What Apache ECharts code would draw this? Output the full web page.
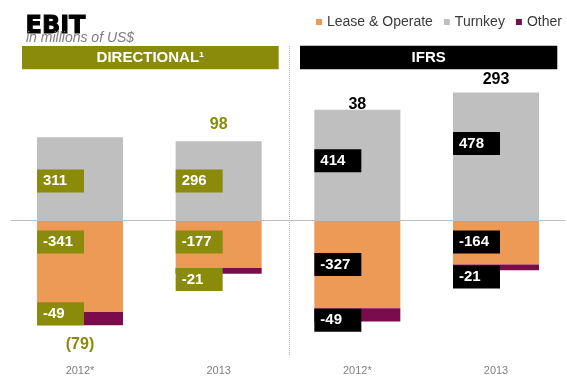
<!DOCTYPE html>
<html><head><meta charset="utf-8">
<script src="https://cdn.jsdelivr.net/npm/echarts@6/dist/echarts.min.js"></script>
<style>html,body{margin:0;padding:0;background:#fff}#c{width:567px;height:376px}</style>
</head><body><div id="c"></div>
<script>
// ---- data ----
const categories = ['2012*', '2013', '2012*', '2013'];
const leaseOperate = [-341, -177, -327, -164];
const turnkey = [311, 296, 414, 478];
const other = [-49, -21, -49, -21];
const groupOfCategory = [0, 0, 1, 1];
const groupNames = ['DIRECTIONAL\u00B9', 'IFRS'];

// ---- styles ----
const FONT = '"Liberation Sans", Arial, sans-serif';
const groupColors = ['#8A8A0B', '#000000'];
const seriesColors = { lease: '#EE9A57', turnkey: '#BFBFBF', other: '#7A0C4C' };
const labelAnchor = {
  lease: ['top', 'top', 'middle', 'top'],
  turnkey: ['middle', 'middle', 'middle', 'middle'],
  other: ['bottom', 'top', 'top', 'top']
};
const labelNudge = {
  lease: [0, 0, 0, 0],
  turnkey: [2, 0, -4.5, -13],
  other: [0, 0, 0.5, 1]
};
const topAnchorOffset = { lease: 10, turnkey: 0, other: 0 };
const totalLabelGap = [18, 17, 5, 13];

function labelFor(key, i) {
  const a = labelAnchor[key][i];
  let position, va;
  if (a === 'top') { position = [0, topAnchorOffset[key]]; va = 'top'; }
  else if (a === 'bottom') { position = [0, '100%']; va = 'bottom'; }
  else { position = [0, '50%']; va = 'middle'; }
  return {
    show: true, position, align: 'left', verticalAlign: va,
    offset: [0, labelNudge[key][i]],
    formatter: '{c}',
    color: '#fff', fontFamily: FONT, fontWeight: 'bold', fontSize: 15,
    backgroundColor: groupColors[groupOfCategory[i]],
    width: 41, lineHeight: 15, padding: [4, 0, 4, 6]
  };
}
function items(key, arr) {
  return arr.map((v, i) => ({ value: v, label: labelFor(key, i) }));
}
const totals = categories.map((c, i) => turnkey[i] + leaseOperate[i] + other[i]);
const totalData = categories.map((c, i) => [i, turnkey[i], leaseOperate[i] + other[i], totals[i]]);

const chart = echarts.init(document.getElementById('c'));
chart.setOption({
  animation: false,
  backgroundColor: '#fff',
  grid: { left: 10.67, right: 1.67, top: 59.8, bottom: 14.4, containLabel: false },
  legend: {
    left: 316, top: 15, padding: 0, itemGap: 11, itemWidth: 6, itemHeight: 6, icon: 'rect',
    textStyle: { fontFamily: FONT, fontSize: 14, color: '#3a3a3a' },
    data: ['Lease & Operate', 'Turnkey', 'Other']
  },
  xAxis: {
    type: 'category', data: categories,
    axisLine: { show: false }, axisTick: { show: false },
    axisLabel: { margin: 5, color: '#808080', fontFamily: FONT, fontSize: 11 }
  },
  yAxis: { type: 'value', min: -520, max: 600, show: false, splitLine: { show: false } },
  graphic: [
    { type: 'text', left: 25, top: 14, style: { text: 'EBIT', fill: '#000', stroke: '#000', lineWidth: 1, font: 'bold 24px "DejaVu Sans", sans-serif' } },
    { type: 'text', left: 26, top: 31, style: { text: 'in millions of US$', fill: '#7f7f7f', font: 'italic 14px ' + FONT } },
    { type: 'rect', shape: { x: 22, y: 46, width: 256.7, height: 23.3 }, style: { fill: groupColors[0] } },
    { type: 'rect', shape: { x: 300, y: 45.7, width: 257.3, height: 23.6 }, style: { fill: groupColors[1] } },
    { type: 'text', x: 150.3, y: 57.7, style: { text: groupNames[0], fill: '#fff', font: 'bold 15px ' + FONT, align: 'center', verticalAlign: 'middle', textAlign: 'center', textVerticalAlign: 'middle' } },
    { type: 'text', x: 428.7, y: 57.7, style: { text: groupNames[1], fill: '#fff', font: 'bold 15px ' + FONT, align: 'center', verticalAlign: 'middle', textAlign: 'center', textVerticalAlign: 'middle' } },
    { type: 'line', shape: { x1: 289.5, y1: 46, x2: 289.5, y2: 355 }, style: { stroke: '#b0b0b0', lineWidth: 1, lineDash: [1, 1] } }
  ],
  series: [
    {
      name: 'Lease & Operate', type: 'bar', stack: 'ebit', barWidth: 86,
      itemStyle: { color: seriesColors.lease },
      data: items('lease', leaseOperate)
    },
    {
      name: 'Turnkey', type: 'bar', stack: 'ebit', barWidth: 86,
      itemStyle: { color: seriesColors.turnkey },
      data: items('turnkey', turnkey),
      markLine: {
        silent: true, symbol: 'none', label: { show: false },
        lineStyle: { color: '#BFBFBF', width: 1, type: 'solid' },
        data: [{ yAxis: 0 }]
      }
    },
    {
      name: 'Other', type: 'bar', stack: 'ebit', barWidth: 86,
      itemStyle: { color: seriesColors.other },
      data: items('other', other)
    },
    {
      name: 'Total', type: 'custom', silent: true,
      data: totalData,
      renderItem: function (params, api) {
        const i = api.value(0);
        const total = api.value(3);
        const x = api.coord([i, 0])[0];
        let y;
        if (total >= 0) y = api.coord([i, api.value(1)])[1] - totalLabelGap[i];
        else y = api.coord([i, api.value(2)])[1] + totalLabelGap[i] + 1;
        const txt = total < 0 ? '(' + Math.abs(total) + ')' : String(total);
        return {
          type: 'text', x: x, y: y,
          style: {
            text: txt, fill: groupColors[groupOfCategory[i]],
            font: 'bold 16px ' + FONT,
            align: 'center', verticalAlign: 'middle', textAlign: 'center', textVerticalAlign: 'middle'
          }
        };
      }
    }
  ]
});
</script></body></html>
